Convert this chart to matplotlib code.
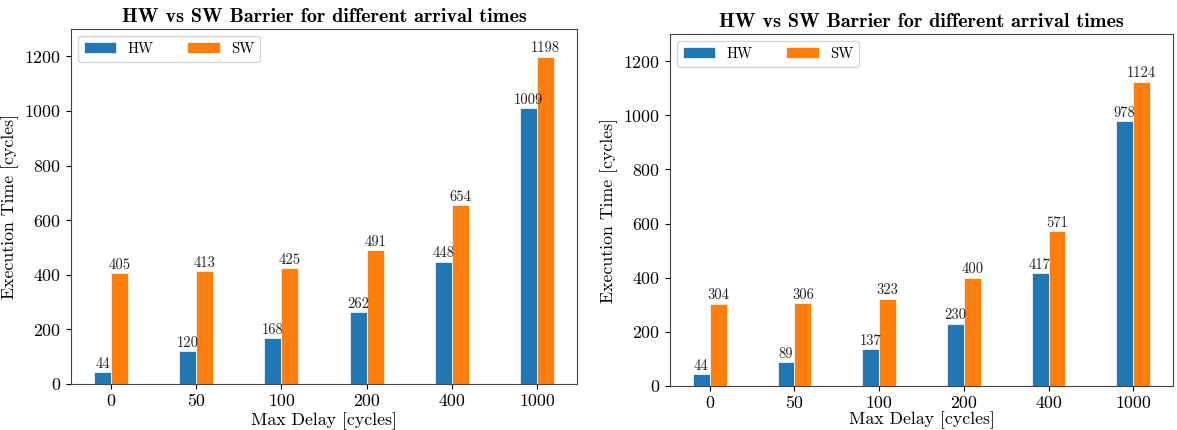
import matplotlib
matplotlib.use("Agg")
import matplotlib.pyplot as plt
import numpy as np

plt.rcParams['font.family'] = 'serif'
plt.rcParams['font.serif'] = ['cmr10']
plt.rcParams['axes.formatter.use_mathtext'] = True
plt.rcParams['mathtext.fontset'] = 'cm'

# data
delays = ['0', '50', '100', '200', '400', '1000']
hw_left = [44, 120, 168, 262, 448, 1009]
sw_left = [405, 413, 425, 491, 654, 1198]
hw_right = [44, 89, 137, 230, 417, 978]
sw_right = [304, 306, 323, 400, 571, 1124]

W, H = 1177, 430
fig = plt.figure(figsize=(W / 100, H / 100), dpi=100)

def box(x0, y0, x1, y1):
    return [x0 / W, 1 - y1 / H, (x1 - x0) / W, (y1 - y0) / H]

def draw(ax, hw, sw, lpad):
    x = np.arange(len(delays))
    w = 0.2
    b1 = ax.bar(x - w / 2, hw, w, label='HW', color='#1f77b4', edgecolor='white', linewidth=0.5)
    b2 = ax.bar(x + w / 2, sw, w, label='SW', color='#ff7f0e', edgecolor='white', linewidth=0.5)
    ax.bar_label(b1, fontsize=10.5, padding=1, color='#222222')
    ax.bar_label(b2, fontsize=10.5, padding=1, color='#222222')
    ax.set_xticks(x)
    ax.set_xticklabels(delays)
    ax.set_ylim(0, 1300)
    ax.tick_params(labelsize=12.8)
    ax.set_xlabel('Max Delay [cycles]', fontsize=12.8, labelpad=lpad)
    ax.set_ylabel('Execution Time [cycles]', fontsize=12.8)
    ax.set_title('HW vs SW Barrier for different arrival times', fontsize=14.5,
                 family='cmb10', pad=5)
    ax.legend(loc='upper left', ncol=2, fontsize=10.5, handlelength=2.2,
              columnspacing=2.3, handleheight=0.8)
    for s in ax.spines.values():
        s.set_edgecolor('#444444')

ax1 = fig.add_axes(box(71, 29, 577, 384))
draw(ax1, hw_left, sw_left, 2)
ax2 = fig.add_axes(box(670, 34, 1173, 386))
draw(ax2, hw_right, sw_right, 0.5)

fig.savefig('out.png', dpi=100)
